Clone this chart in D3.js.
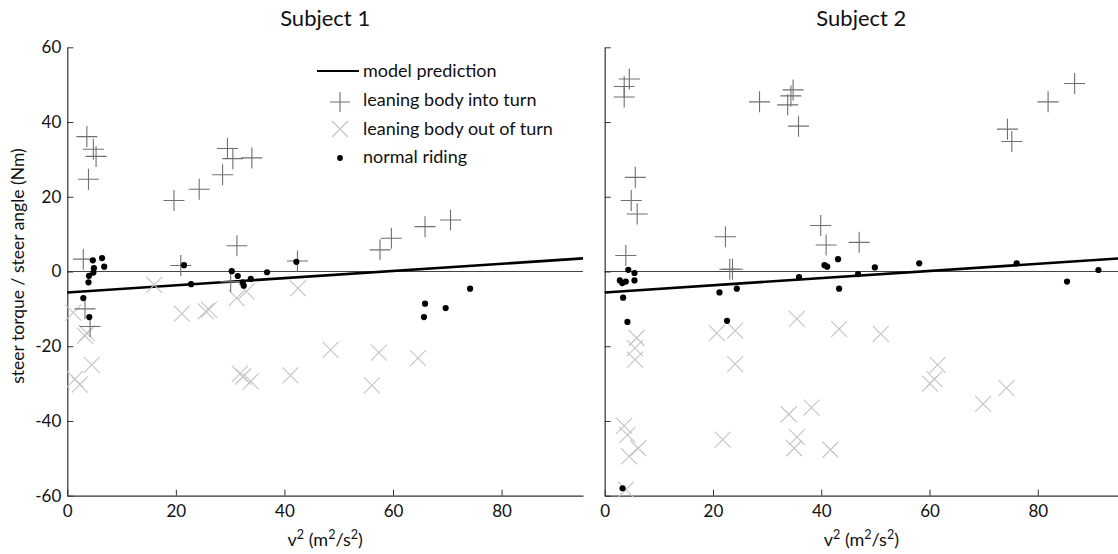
<!DOCTYPE html>
<html><head><meta charset="utf-8">
<script src="https://cdn.jsdelivr.net/npm/d3@7"></script>
<style>
html,body{margin:0;padding:0;background:#fff;}
svg text{font-family:Lato,"Open Sans","DejaVu Sans",sans-serif;fill:#111;}
</style></head>
<body>
<svg id="chart" width="1118" height="554"></svg>
<script>
// ---- data ----
const panelTitles = ["Subject 1", "Subject 2"];
const xTicks = [0, 20, 40, 60, 80];
const yTicks = [-60, -40, -20, 0, 20, 40, 60];
const legendLabels = ["model prediction", "leaning body into turn", "leaning body out of turn", "normal riding"];
const modelLine = [[0, -5.6], [95, 3.5]];

// Subject 1
const s1Into = [[3.6,36.1],[4.8,32.7],[5.3,30.8],[3.9,24.7],[19.65,19.0],[24.3,22.0],[28.6,25.9],[29.5,32.9],[30.5,30.2],[34.0,30.4],[31.25,6.9],[20.9,1.6],[42.4,2.8],[2.95,3.3],[3.26,-10.0],[4.2,-14.7],[30.1,-2.7],[57.6,5.8],[59.7,8.9],[65.9,12.0],[70.6,13.8]];
const s1Out = [[16.0,-3.6],[21.1,-11.3],[25.5,-10.7],[26.1,-10.2],[31.2,-7.1],[33.0,-5.3],[42.5,-4.5],[1.1,-11.0],[3.26,-17.2],[3.6,-16.5],[4.5,-25.0],[1.4,-28.8],[2.3,-30.3],[31.8,-27.4],[32.4,-28.1],[33.8,-29.4],[41.1,-27.8],[48.5,-21.0],[57.4,-21.7],[64.6,-23.2],[56.1,-30.5]];
const s1Normal = [[2.95,-7.1],[3.9,-2.9],[4.0,-1.15],[4.05,-12.2],[4.8,-0.3],[4.9,0.9],[4.7,3.0],[6.4,3.6],[6.8,1.3],[21.5,1.7],[22.8,-3.4],[30.3,0.1],[31.4,-1.2],[32.3,-2.9],[32.5,-3.8],[33.8,-2.0],[36.8,-0.2],[42.2,2.6],[65.7,-12.2],[65.9,-8.6],[69.7,-9.8],[74.2,-4.6]];

// Subject 2
const s2Into = [[4.55,51.5],[3.6,49.5],[3.6,46.7],[5.65,25.2],[4.9,19.0],[6.0,15.4],[3.9,4.3],[22.3,9.3],[23.1,0.6],[23.6,0.6],[28.6,45.4],[34.8,48.6],[34.4,47.0],[33.8,44.6],[35.8,38.9],[39.9,12.3],[40.9,7.1],[47.0,7.8],[74.4,38.1],[75.2,34.8],[81.9,45.4],[86.8,50.3]];
const s2Out = [[35.5,-12.7],[43.3,-15.4],[20.7,-16.5],[24.1,-15.8],[24.1,-24.8],[5.9,-17.8],[5.6,-20.5],[5.6,-23.6],[34.0,-38.2],[38.2,-36.4],[35.5,-44.3],[35.0,-47.3],[41.7,-47.7],[21.8,-45.0],[3.6,-41.3],[4.2,-43.7],[6.2,-47.3],[4.5,-49.5],[3.9,-58.4],[51.0,-16.7],[61.5,-25.0],[60.9,-28.8],[60.1,-30.0],[74.2,-31.2],[69.9,-35.4]];
const s2Normal = [[4.36,0.45],[5.5,-0.4],[5.5,-2.4],[2.8,-2.4],[3.25,-3.1],[3.9,-2.7],[3.4,-7.0],[4.2,-13.5],[3.3,-58.0],[21.2,-5.6],[24.4,-4.6],[22.6,-13.2],[35.9,-1.5],[40.6,1.7],[41.1,1.3],[43.1,3.3],[43.3,-4.6],[46.8,-0.7],[49.9,1.1],[58.1,2.2],[76.1,2.2],[85.4,-2.7],[91.2,0.4]];

// ---- drawing ----
const svg = d3.select("#chart");
const yScale = d3.scaleLinear().domain([-60, 60]).range([495.7, 47.3]);
const panels = [
  {title: panelTitles[0], into: s1Into, out: s1Out, normal: s1Normal, range: [67.3, 583], labels: true, legend: true},
  {title: panelTitles[1], into: s2Into, out: s2Out, normal: s2Normal, range: [604.7, 1119], labels: false, legend: false}
];
const intoColor = "#707070", outColor = "#c4c4c4", axisColor = "#333";

function plusPath(s){ return `M${-s},0H${s}M0,${-s}V${s}`; }
function crossPath(s){ return `M${-s},${-s}L${s},${s}M${-s},${s}L${s},${-s}`; }

panels.forEach(p => {
  const x = d3.scaleLinear().domain([0, 95]).range(p.range);
  const g = svg.append("g");
  const cx = (p.range[0] + Math.min(p.range[1], 1118)) / 2;

  // zero line
  g.append("line").attr("x1", x(0)).attr("x2", x(95)).attr("y1", yScale(0)).attr("y2", yScale(0))
    .attr("stroke", "#444").attr("stroke-width", 1);

  // axes
  const ya = d3.axisLeft(yScale).tickValues(yTicks).tickSizeInner(-6).tickSizeOuter(0).tickPadding(6)
    .tickFormat(d => p.labels ? String(d) : "");
  const yg = g.append("g").attr("transform", `translate(${x(0)},0)`).call(ya);
  const xa = d3.axisBottom(x).tickValues(xTicks).tickSizeInner(-6).tickSizeOuter(0).tickPadding(9)
    .tickFormat(d => String(d));
  const xg = g.append("g").attr("transform", `translate(0,${yScale(-60)})`).call(xa);
  [yg, xg].forEach(a => {
    a.select(".domain").attr("stroke", axisColor).attr("stroke-width", 1.2);
    a.selectAll(".tick line").attr("stroke", axisColor);
    a.selectAll("text").attr("font-size", 17).attr("fill", "#111")
      .style("font-family", 'Lato,"Open Sans",sans-serif');
  });

  // model line
  g.append("path").datum(modelLine)
    .attr("d", d3.line().x(d => x(d[0])).y(d => yScale(d[1])))
    .attr("stroke", "#000").attr("stroke-width", 2.6).attr("fill", "none");

  // out-of-turn crosses
  g.selectAll(".out").data(p.out).join("path").attr("class", "out")
    .attr("transform", d => `translate(${x(d[0])},${yScale(d[1])})`)
    .attr("d", crossPath(8)).attr("stroke", outColor).attr("stroke-width", 1.1).attr("fill", "none");
  // into-turn pluses
  g.selectAll(".into").data(p.into).join("path").attr("class", "into")
    .attr("transform", d => `translate(${x(d[0])},${yScale(d[1])})`)
    .attr("d", plusPath(10.5)).attr("stroke", intoColor).attr("stroke-width", 1.1).attr("fill", "none");
  // normal riding dots
  g.selectAll(".normal").data(p.normal).join("circle").attr("class", "normal")
    .attr("cx", d => x(d[0])).attr("cy", d => yScale(d[1])).attr("r", 3.1).attr("fill", "#000");

  // title
  g.append("text").attr("x", cx).attr("y", 26)
    .attr("text-anchor", "middle").attr("font-size", 22).text(p.title);

  // x label
  const xl = g.append("text").attr("x", cx).attr("y", 546)
    .attr("text-anchor", "middle").attr("font-size", 18);
  xl.append("tspan").text("v");
  xl.append("tspan").attr("font-size", 12.5).attr("dy", -7).text("2");
  xl.append("tspan").attr("dy", 7).text(" (m");
  xl.append("tspan").attr("font-size", 12.5).attr("dy", -7).text("2");
  xl.append("tspan").attr("dy", 7).text("/s");
  xl.append("tspan").attr("font-size", 12.5).attr("dy", -7).text("2");
  xl.append("tspan").attr("dy", 7).text(")");

  if (p.legend) {
    const lg = g.append("g");
    const rows = [71, 100, 129, 157];
    lg.append("line").attr("x1", 317).attr("x2", 359).attr("y1", rows[0]).attr("y2", rows[0])
      .attr("stroke", "#000").attr("stroke-width", 2);
    lg.append("path").attr("transform", `translate(340,${rows[1] + 2})`).attr("d", plusPath(10))
      .attr("stroke", intoColor).attr("stroke-width", 1.1).attr("fill", "none");
    lg.append("path").attr("transform", `translate(340,${rows[2]})`).attr("d", crossPath(8))
      .attr("stroke", outColor).attr("stroke-width", 1.1).attr("fill", "none");
    lg.append("circle").attr("cx", 340).attr("cy", rows[3] + 1).attr("r", 2.9).attr("fill", "#000");
    legendLabels.forEach((t, i) => {
      lg.append("text").attr("x", 363).attr("y", rows[i] + 6).attr("font-size", 18).text(t);
    });
  }
});

// y label
svg.append("text").attr("transform", "translate(24,266) rotate(-90)")
  .attr("text-anchor", "middle").attr("font-size", 17.5).text("steer torque / steer angle (Nm)");
</script>
</body></html>
